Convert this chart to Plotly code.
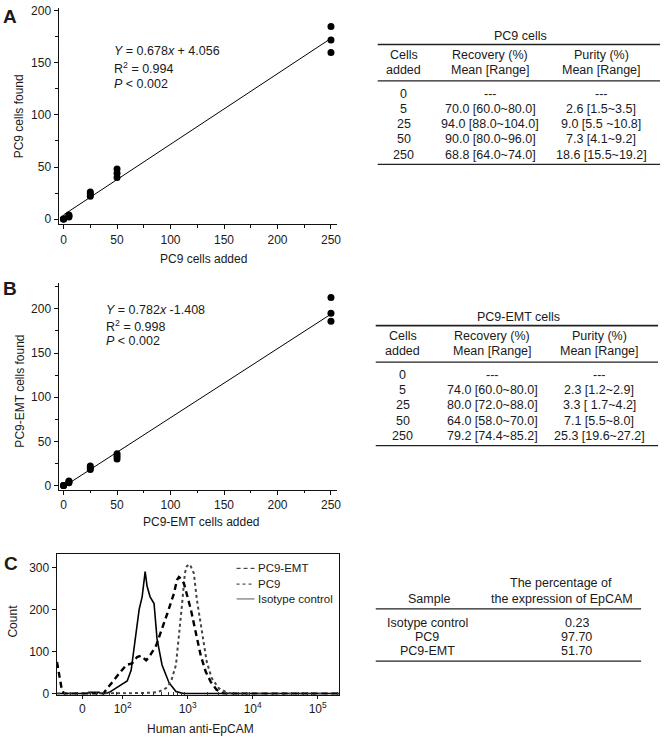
import math
import plotly.graph_objects as go

# ---------------- DATA ----------------
# Panel A: PC9 spike-in
a_cells_added = [0, 0, 0, 5, 5, 5, 25, 25, 25, 50, 50, 50, 250, 250, 250]
a_cells_found = [0, 0, 0, 2, 3, 4, 22, 24, 26, 40, 44, 48, 160, 172, 185]
a_slope, a_intercept = 0.678, 4.056
a_fit_x = [0, 250]

# Panel B: PC9-EMT spike-in
b_cells_added = [0, 0, 0, 5, 5, 5, 25, 25, 25, 50, 50, 50, 250, 250, 250]
b_cells_found = [0, 0, 0, 3, 4, 5, 18, 20, 22, 30, 33, 36, 186, 195, 213]
b_slope, b_intercept = 0.782, -1.408
b_fit_x = [0, 250]

# Tables A / B
tab_cells_added = ["0", "5", "25", "50", "250"]
pc9_recovery = ["---", "70.0 [60.0~80.0]", "94.0 [88.0~104.0]", "90.0 [80.0~96.0]", "68.8 [64.0~74.0]"]
pc9_purity = ["---", "2.6 [1.5~3.5]", "9.0 [5.5 ~10.8]", "7.3 [4.1~9.2]", "18.6 [15.5~19.2]"]
emt_recovery = ["---", "74.0 [60.0~80.0]", "80.0 [72.0~88.0]", "64.0 [58.0~70.0]", "79.2 [74.4~85.2]"]
emt_purity = ["---", "2.3 [1.2~2.9]", "3.3 [ 1.7~4.2]", "7.1 [5.5~8.0]", "25.3 [19.6~27.2]"]

# Panel C: flow cytometry histograms (x in display decades of the biexponential scale)
emt_x = [0.99, 1.015, 1.06, 1.09, 1.12, 1.70, 1.765, 1.85, 1.948, 2.055, 2.147, 2.223, 2.284, 2.361,
         2.407, 2.514, 2.606, 2.682, 2.789, 2.835, 2.865, 2.896, 2.942, 2.988, 3.049, 3.125, 3.202,
         3.278, 3.355, 3.446, 3.554, 5.33]
emt_count = [75, 55, 13, 2, 0, 0, 13, 30, 48, 68, 72, 87, 90, 79,
             87, 114, 153, 188, 238, 270, 277, 273, 262, 238, 200, 145, 90,
             52, 28, 9, 0, 0]
pc9_x = [0.99, 1.9, 2.1, 2.4, 2.55, 2.667, 2.743, 2.82, 2.865, 2.911, 2.957, 2.988, 3.034, 3.095,
         3.141, 3.217, 3.294, 3.37, 3.477, 3.584, 3.676, 5.33]
pc9_count = [0, 0, 1, 2, 4, 13, 28, 68, 130, 208, 286, 303, 307, 286,
             224, 145, 75, 37, 13, 4, 0, 0]
iso_x = [0.99, 1.45, 1.48, 1.64, 1.67, 1.72, 1.795, 1.948, 2.07, 2.131, 2.21, 2.254, 2.30, 2.346,
         2.376, 2.422, 2.483, 2.529, 2.606, 2.713, 2.82, 2.94, 5.33]
iso_count = [0, 0, 3, 3, 0, 0, 3, 17, 30, 56, 145, 200, 230, 290,
             255, 230, 214, 130, 68, 26, 5, 0, 0]
c_tickvals = [1.38, 2, 3, 4, 5]
c_ticktext = ["0", "10<sup>2</sup>", "10<sup>3</sup>", "10<sup>4</sup>", "10<sup>5</sup>"]
legend_names = ["PC9-EMT", "PC9", "Isotype control"]

# Table C
flow_samples = ["Isotype control", "PC9", "PC9-EMT"]
flow_pct = ["0.23", "97.70", "51.70"]

# ---------------- LAYOUT HELPERS ----------------
W, H = 666, 746
FONT = "Arial, 'Liberation Sans', Helvetica, sans-serif"
TXT = "#1a1a1a"


def fx(px):
    return px / W


def fy(py):
    return 1 - py / H


annotations = []
shapes = []


def text(s, x, y, size=12, xanchor="center", angle=0, bold=False):
    if bold:
        s = "<b>" + s + "</b>"
    annotations.append(dict(text=s, x=fx(x), y=fy(y), xref="paper", yref="paper",
                            xanchor=xanchor, yanchor="middle", showarrow=False,
                            textangle=angle, font=dict(size=size, color=TXT, family=FONT)))


def hline(x0, x1, y, width=1.3, color="#222", dash="solid"):
    shapes.append(dict(type="line", xref="paper", yref="paper", x0=fx(x0), x1=fx(x1),
                       y0=fy(y), y1=fy(y), line=dict(color=color, width=width, dash=dash)))


fig = go.Figure()

# ---------------- PANEL A ----------------
fig.add_trace(go.Scatter(x=a_cells_added, y=a_cells_found, mode="markers",
                         marker=dict(color="black", size=7), xaxis="x", yaxis="y", showlegend=False))
fig.add_trace(go.Scatter(x=a_fit_x, y=[a_slope * v + a_intercept for v in a_fit_x], mode="lines",
                         line=dict(color="black", width=1), xaxis="x", yaxis="y", showlegend=False))

# ---------------- PANEL B ----------------
fig.add_trace(go.Scatter(x=b_cells_added, y=b_cells_found, mode="markers",
                         marker=dict(color="black", size=7), xaxis="x2", yaxis="y2", showlegend=False))
fig.add_trace(go.Scatter(x=b_fit_x, y=[b_slope * v + b_intercept for v in b_fit_x], mode="lines",
                         line=dict(color="black", width=1), xaxis="x2", yaxis="y2", showlegend=False))

# ---------------- PANEL C ----------------
fig.add_trace(go.Scatter(x=iso_x, y=iso_count, mode="lines", name=legend_names[2],
                         line=dict(color="black", width=1.6), xaxis="x3", yaxis="y3", showlegend=False))
fig.add_trace(go.Scatter(x=pc9_x, y=pc9_count, mode="lines", name=legend_names[1],
                         line=dict(color="#444", width=2, dash="dot"), xaxis="x3", yaxis="y3",
                         showlegend=False))
fig.add_trace(go.Scatter(x=emt_x, y=emt_count, mode="lines", name=legend_names[0],
                         line=dict(color="black", width=2.4, dash="6px,4px"), xaxis="x3", yaxis="y3",
                         showlegend=False))

axis_common = dict(showline=True, linecolor="#111", linewidth=1.2, ticks="outside", ticklen=4,
                   tickcolor="#111", tickwidth=1, showgrid=False, zeroline=False,
                   tickfont=dict(size=12, color=TXT, family=FONT))
minor25 = dict(dtick=25, tick0=0, ticks="outside", ticklen=2.5, tickcolor="#111", tickwidth=1)

c_minor = [1.1, 1.2, 1.3, 1.5, 1.6, 1.7, 1.8, 1.9]
for dec in [2, 3, 4, 5]:
    for k in range(2, 10):
        v = dec + math.log10(k)
        if v < 5.32:
            c_minor.append(v)

fig.update_layout(
    width=W, height=H,
    margin=dict(l=0, r=0, t=0, b=0),
    paper_bgcolor="white", plot_bgcolor="white",
    font=dict(family=FONT, color=TXT, size=12),
    xaxis=dict(domain=[fx(59), fx(339)], range=[-4.6, 255.6], anchor="y",
               tickmode="linear", tick0=0, dtick=50, minor=minor25, **axis_common),
    yaxis=dict(domain=[fy(223), fy(4)], range=[-4.74, 202.8], anchor="x",
               tickmode="linear", tick0=0, dtick=50, minor=minor25, **axis_common),
    xaxis2=dict(domain=[fx(59), fx(339)], range=[-4.6, 255.6], anchor="y2",
                tickmode="linear", tick0=0, dtick=50, minor=minor25, **axis_common),
    yaxis2=dict(domain=[fy(492.5), fy(283)], range=[-5, 229.1], anchor="x2",
                tickmode="linear", tick0=0, dtick=50, minor=minor25, **axis_common),
    xaxis3=dict(domain=[fx(57), fx(341)], range=[0.985, 5.327], anchor="y3",
                tickmode="array", tickvals=c_tickvals, ticktext=c_ticktext, mirror=True,
                minor=dict(tickvals=c_minor, ticks="inside", ticklen=2.5, tickcolor="#333"),
                **{**axis_common, "ticklen": 3}),
    yaxis3=dict(domain=[fy(700), fy(557)], range=[-2.34, 332.8], anchor="x3",
                tickmode="array", tickvals=[0, 100, 200, 300], mirror=True, **axis_common),
)

# Panel letters
text("A", 10, 13, size=19, bold=True)
text("B", 10, 288, size=19, bold=True)
text("C", 11, 567, size=19, bold=True)

# Axis titles
text("PC9 cells added", 205, 258)
text("PC9 cells found", 20, 114, angle=-90)
text("PC9-EMT cells added", 203, 525)
text("PC9-EMT cells found", 20, 392, angle=-90)
text("Human anti-EpCAM", 202, 735)
text("Count", 13, 625, angle=-90)

# Regression equations
text("<i>Y</i> = 0.678<i>x</i> + 4.056", 113, 48, size=12.5, xanchor="left")
text("R<sup>2</sup> = 0.994", 113, 65, size=12.5, xanchor="left")
text("<i>P</i> < 0.002", 113, 81, size=12.5, xanchor="left")
text("<i>Y</i> = 0.782<i>x</i> -1.408", 105, 310, size=12.5, xanchor="left")
text("R<sup>2</sup> = 0.998", 105, 326, size=12.5, xanchor="left")
text("<i>P</i> < 0.002", 105, 342, size=12.5, xanchor="left")

# Manual legend for panel C
leg_rows = [572, 588, 603]
leg_styles = [dict(color="#222", width=1, dash="4px,3px"),
              dict(color="#555", width=1.4, dash="dot"),
              dict(color="#888", width=1.4, dash="solid")]
for name, ry, st in zip(legend_names, leg_rows, leg_styles):
    shapes.append(dict(type="line", xref="paper", yref="paper", x0=fx(238), x1=fx(256),
                       y0=fy(ry), y1=fy(ry), line=st))
    text(name, 258, ry, size=11.5, xanchor="left")


# Tables A and B
def cell_table(title, top, cx, rec, pur, x0, x1):
    c1, c2, c3 = cx
    text(title, (x0 + x1) / 2 + 2, top - 9, size=12.5)
    hline(x0, x1, top, width=1.6)
    text("Cells", c1, top + 11, size=12.5)
    text("added", c1, top + 26, size=12.5)
    text("Recovery (%)", c2, top + 11, size=12.5)
    text("Mean [Range]", c2, top + 26, size=12.5)
    text("Purity (%)", c3, top + 11, size=12.5)
    text("Mean [Range]", c3, top + 26, size=12.5)
    hline(x0, x1, top + 37, width=1.3)
    for i in range(len(tab_cells_added)):
        ry = top + 50 + i * 15.4
        text(tab_cells_added[i], c1, ry, size=12.5)
        text(rec[i], c2, ry, size=12.5)
        text(pur[i], c3, ry, size=12.5)
    hline(x0, x1, top + 50 + 4 * 15.4 + 10, width=1.3)


cell_table("PC9 cells", 41, (406, 493, 605), pc9_recovery, pc9_purity, 380, 664)
cell_table("PC9-EMT cells", 326, (405, 495, 603), emt_recovery, emt_purity, 378, 662)

# Table C
text("The percentage of", 564, 587, size=12.5)
text("the expression of EpCAM", 565, 603, size=12.5)
text("Sample", 432, 603, size=12.5)
hline(378, 645, 613, width=1.3)
for i in range(len(flow_samples)):
    ry = 627 + i * 14.5
    text(flow_samples[i], 430, ry, size=12.5)
    text(flow_pct[i], 580, ry, size=12.5)
hline(378, 645, 666, width=1.3)

fig.update_layout(annotations=annotations, shapes=shapes)
fig.write_html("out.html", config={"displayModeBar": False},
               post_script="document.body.style.margin='0px';document.body.style.overflow='hidden';")
